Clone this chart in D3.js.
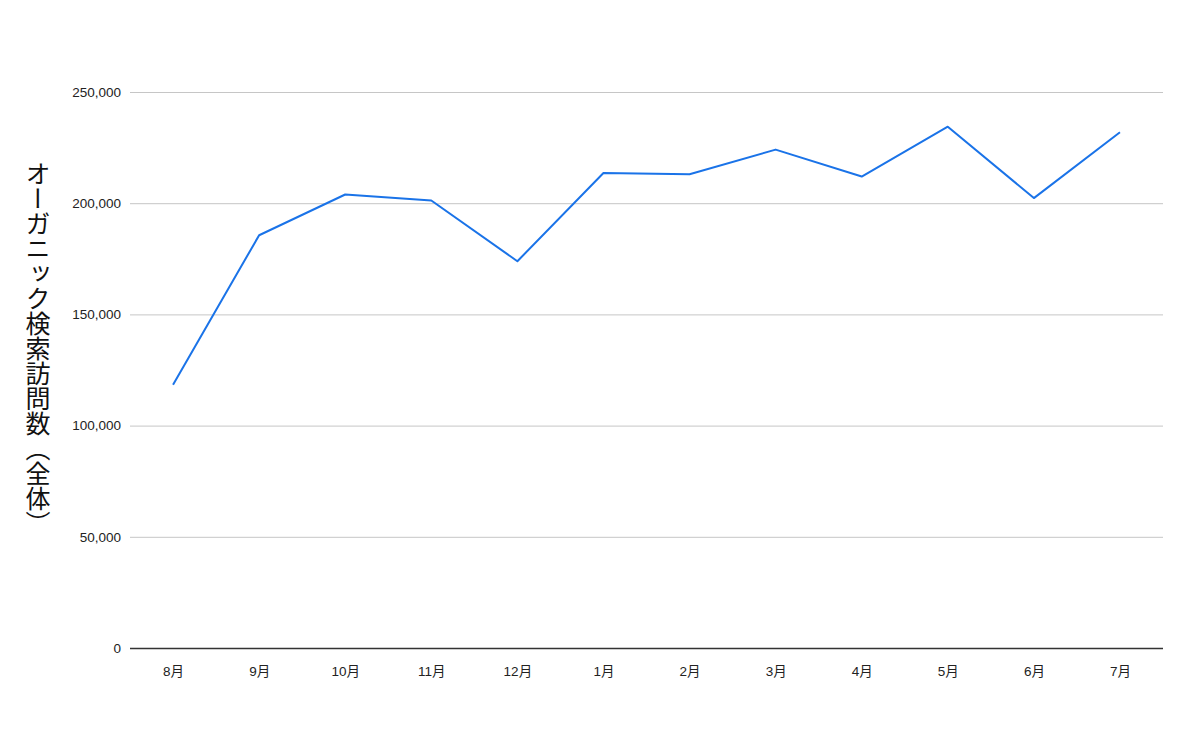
<!DOCTYPE html>
<html><head><meta charset="utf-8">
<script src="https://cdn.jsdelivr.net/npm/d3@7"></script>
<style>
html,body{margin:0;padding:0;background:#fff;}
svg{display:block;}
</style></head>
<body>
<svg id="chart" width="1200" height="740"></svg>
<script>
const months = ["8月","9月","10月","11月","12月","1月","2月","3月","4月","5月","6月","7月"];
const visits = [118400, 185600, 203900, 201200, 173900, 213600, 213000, 224100, 212000, 234400, 202300, 231900];
const yTicks = [0, 50000, 100000, 150000, 200000, 250000];
const yTitle = "オーガニック検索訪問数（全体）";

const svg = d3.select("#chart");
const m = {left:130, right:1163, top:92, bottom:648};
const x = d3.scalePoint().domain(months).range([m.left, m.right]).padding(0.5);
const y = d3.scaleLinear().domain([0, 250000]).range([m.bottom, m.top]);
const fontTick = "'Liberation Sans', Arial, 'Noto Sans CJK JP', sans-serif";

// gridlines
const yAxis = d3.axisLeft(y).tickValues(yTicks).tickSize(-(m.right - m.left)).tickPadding(9)
  .tickFormat(d3.format(","));
const gy = svg.append("g").attr("transform", `translate(${m.left},0)`).call(yAxis);
gy.select(".domain").remove();
gy.selectAll(".tick line").attr("stroke", "#c6c6c6").attr("stroke-width", 1);
gy.selectAll(".tick text").attr("fill", "#222").style("font-family", fontTick).style("font-size", "13.5px");
gy.selectAll(".tick").filter(d => d === 0).select("line").attr("stroke", "#333").attr("stroke-width", 1.5);

// x axis labels
const xAxis = d3.axisBottom(x).tickSize(0).tickPadding(18);
const gx = svg.append("g").attr("transform", `translate(0,${m.bottom})`).call(xAxis);
gx.select(".domain").remove();
gx.selectAll(".tick text").attr("fill", "#222").style("font-family", fontTick).style("font-size", "13.5px");

// line
const line = d3.line().x((d,i) => x(months[i])).y(d => y(d));
svg.append("path").datum(visits).attr("d", line)
  .attr("fill", "none").attr("stroke", "#1a73e8").attr("stroke-width", 2)
  .attr("stroke-linejoin", "round");

// y title (vertical upright)
svg.append("text").attr("x", 38).attr("y", 348)
  .attr("text-anchor", "middle")
  .style("writing-mode", "vertical-rl").style("text-orientation", "upright")
  .style("font-family", "'Noto Sans CJK JP', sans-serif").style("font-size", "25px")
  .attr("fill", "#111")
  .text(yTitle);
</script>
</body></html>
